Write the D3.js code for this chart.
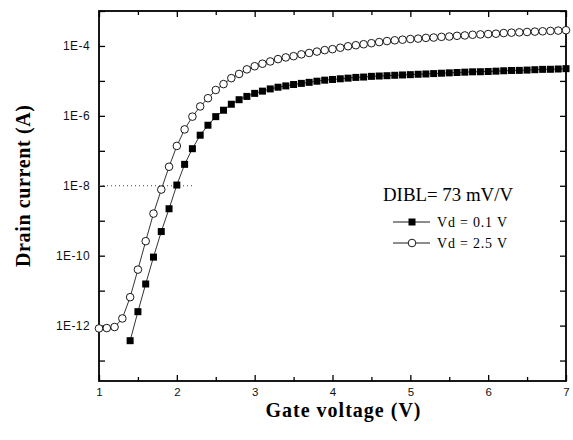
<!DOCTYPE html>
<html>
<head>
<meta charset="utf-8">
<script src="https://cdn.jsdelivr.net/npm/d3@7"></script>
<style>
  body { margin: 0; background: #fff; }
  svg { display: block; }
  .tick text { font-family: "Liberation Sans", Arial, sans-serif; fill: #111; }
  .y-labels .tick text { font-size: 12px; letter-spacing: 0.4px; }
  .x-labels .tick text { font-size: 11.5px; }
  .tick line { stroke: #000; stroke-width: 1.3; }
</style>
</head>
<body>
<div id="chart"></div>
<script>

// gate voltage sweep (V)
var gateVoltage = [1.0, 1.1, 1.2, 1.3, 1.4, 1.5, 1.6, 1.7, 1.8, 1.9,
	2.0, 2.1, 2.2, 2.3, 2.4, 2.5, 2.6, 2.7, 2.8, 2.9,
	3.0, 3.1, 3.2, 3.3, 3.4, 3.5, 3.6, 3.7, 3.8, 3.9,
	4.0, 4.1, 4.2, 4.3, 4.4, 4.5, 4.6, 4.7, 4.8, 4.9,
	5.0, 5.1, 5.2, 5.3, 5.4, 5.5, 5.6, 5.7, 5.8, 5.9,
	6.0, 6.1, 6.2, 6.3, 6.4, 6.5, 6.6, 6.7, 6.8, 6.9,
	7.0];

// drain current (A) at Vd = 0.1 V (no data below 1.4 V)
var currentVd01 = [null, null, null, null, 3.7e-13, 2.5e-12, 1.55e-11, 9.1e-11, 4.9e-10, 2.2e-9,
	1.05e-8, 4.1e-8, 1.15e-7, 2.8e-7, 5.4e-7, 9.5e-7, 1.45e-6, 2.15e-6, 2.9e-6, 3.6e-6,
	4.4e-6, 5.1e-6, 5.9e-6, 6.6e-6, 7.2e-6, 7.9e-6, 8.5e-6, 9.1e-6, 9.8e-6, 1.05e-5,
	1.10e-5, 1.15e-5, 1.20e-5, 1.26e-5, 1.29e-5, 1.35e-5, 1.38e-5, 1.41e-5, 1.45e-5, 1.48e-5,
	1.51e-5, 1.55e-5, 1.58e-5, 1.62e-5, 1.66e-5, 1.70e-5, 1.74e-5, 1.78e-5, 1.82e-5, 1.83e-5,
	1.86e-5, 1.90e-5, 1.95e-5, 1.99e-5, 2.00e-5, 2.04e-5, 2.09e-5, 2.14e-5, 2.15e-5, 2.19e-5,
	2.24e-5];

// drain current (A) at Vd = 2.5 V
var currentVd25 = [8.3e-13, 8.5e-13, 9.1e-13, 1.6e-12, 6.5e-12, 4.0e-11, 2.6e-10, 1.6e-9, 7.8e-9, 3.5e-8,
	1.38e-7, 4.1e-7, 9.5e-7, 1.86e-6, 3.2e-6, 5.5e-6, 8.1e-6, 1.2e-5, 1.58e-5, 2.14e-5,
	2.63e-5, 3.1e-5, 3.6e-5, 4.2e-5, 4.7e-5, 5.1e-5, 5.75e-5, 6.3e-5, 6.9e-5, 7.6e-5,
	8.1e-5, 8.9e-5, 9.8e-5, 1.05e-4, 1.12e-4, 1.20e-4, 1.29e-4, 1.38e-4, 1.45e-4, 1.51e-4,
	1.58e-4, 1.62e-4, 1.70e-4, 1.74e-4, 1.82e-4, 1.86e-4, 1.95e-4, 2.0e-4, 2.09e-4, 2.14e-4,
	2.19e-4, 2.24e-4, 2.34e-4, 2.40e-4, 2.45e-4, 2.51e-4, 2.57e-4, 2.63e-4, 2.69e-4, 2.75e-4,
	2.82e-4];

// tick values
var xTicks = [1, 2, 3, 4, 5, 6, 7];
var xMinorTicks = [1.5, 2.5, 3.5, 4.5, 5.5, 6.5];
var yLabelled = [1e-4, 1e-6, 1e-8, 1e-10, 1e-12];

// threshold reference line (1E-8 A, up to 2.2 V)
var refCurrent = 1e-8, refVoltageEnd = 2.2;

var legendLabels = ["Vd = 0.1 V", "Vd = 2.5 V"];
var dibl = "DIBL= 73 mV/V";

// main function
function drawChart () {

	// dimensions
	var width = 573, height = 440;
	var plotLeft = 99, plotRight = 566, plotTop = 11, plotBottom = 381;

	var svg = d3.select("#chart").append("svg")
		.attr("width", width)
		.attr("height", height);

	// scales
	var x = d3.scaleLinear().domain([1, 7]).range([plotLeft, plotRight]);
	var y = d3.scaleLog().domain([2.6e-14, 1e-3]).range([plotBottom, plotTop]);

	// decades and minor ticks from the log scale
	var allTicks = y.ticks().filter(function (d) { return d >= 2.6e-14 && d <= 1e-3; });
	var decades = allTicks.filter(function (d) { return Math.abs(Math.log10(d) - Math.round(Math.log10(d))) < 1e-6; });
	var minors = allTicks.filter(function (d) { return decades.indexOf(d) < 0; });

	function expLabel(d) {
		var isLabel = yLabelled.some(function (v) { return Math.abs(v - d) / v < 1e-6; });
		return isLabel ? "1E-" + Math.round(-Math.log10(d)) : "";
	}

	function noDomain(g) { g.select(".domain").remove(); }

	// left axis
	svg.append("g").attr("class", "y-labels").attr("transform", "translate(" + plotLeft + ",0)")
		.call(d3.axisLeft(y).tickValues(decades).tickSize(-6).tickPadding(9).tickFormat(expLabel))
		.call(noDomain);
	svg.append("g").attr("transform", "translate(" + plotLeft + ",0)")
		.call(d3.axisLeft(y).tickValues(minors).tickSize(-3).tickFormat(""))
		.call(noDomain);

	// right axis
	svg.append("g").attr("transform", "translate(" + plotRight + ",0)")
		.call(d3.axisRight(y).tickValues(decades).tickSize(-6).tickFormat(""))
		.call(noDomain);
	svg.append("g").attr("transform", "translate(" + plotRight + ",0)")
		.call(d3.axisRight(y).tickValues(minors).tickSize(-3).tickFormat(""))
		.call(noDomain);

	// bottom axis
	svg.append("g").attr("class", "x-labels").attr("transform", "translate(0," + plotBottom + ")")
		.call(d3.axisBottom(x).tickValues(xTicks).tickSize(-6).tickPadding(7).tickFormat(d3.format("d")))
		.call(noDomain);
	svg.append("g").attr("transform", "translate(0," + plotBottom + ")")
		.call(d3.axisBottom(x).tickValues(xMinorTicks).tickSize(-4).tickFormat(""))
		.call(noDomain);

	// top axis
	svg.append("g").attr("transform", "translate(0," + plotTop + ")")
		.call(d3.axisTop(x).tickValues(xTicks).tickSize(-6).tickFormat(""))
		.call(noDomain);
	svg.append("g").attr("transform", "translate(0," + plotTop + ")")
		.call(d3.axisTop(x).tickValues(xMinorTicks).tickSize(-4).tickFormat(""))
		.call(noDomain);

	// frame
	svg.append("rect")
		.attr("x", plotLeft).attr("y", plotTop)
		.attr("width", plotRight - plotLeft).attr("height", plotBottom - plotTop)
		.attr("fill", "none").attr("stroke", "#000").attr("stroke-width", 1.8);

	// dotted reference line
	svg.append("line")
		.attr("x1", x(1)).attr("x2", x(refVoltageEnd))
		.attr("y1", y(refCurrent)).attr("y2", y(refCurrent))
		.attr("stroke", "#444").attr("stroke-width", 1)
		.attr("stroke-dasharray", "1,3");

	// series
	var rows01 = gateVoltage.map(function (v, i) { return { v: v, i: currentVd01[i] }; })
		.filter(function (d) { return d.i != null; });
	var rows25 = gateVoltage.map(function (v, i) { return { v: v, i: currentVd25[i] }; });

	var line = d3.line()
		.x(function (d) { return x(d.v); })
		.y(function (d) { return y(d.i); });

	svg.append("path").datum(rows25)
		.attr("d", line).attr("fill", "none").attr("stroke", "#000").attr("stroke-width", 0.8);
	svg.append("path").datum(rows01)
		.attr("d", line).attr("fill", "none").attr("stroke", "#000").attr("stroke-width", 0.8);

	svg.append("g").selectAll("circle")
		.data(rows25)
		.enter().append("circle")
			.attr("cx", function (d) { return x(d.v); })
			.attr("cy", function (d) { return y(d.i); })
			.attr("r", 3.8)
			.attr("fill", "#fff")
			.attr("stroke", "#000")
			.attr("stroke-width", 0.9);

	svg.append("g").selectAll("rect")
		.data(rows01)
		.enter().append("rect")
			.attr("x", function (d) { return x(d.v) - 3.5; })
			.attr("y", function (d) { return y(d.i) - 3.5; })
			.attr("width", 7)
			.attr("height", 7)
			.attr("fill", "#000");

	// axis titles
	svg.append("text")
		.attr("x", 343).attr("y", 417)
		.attr("text-anchor", "middle")
		.attr("font-family", "Liberation Serif, Times New Roman, serif")
		.attr("font-weight", "bold")
		.attr("font-size", 20)
		.attr("textLength", 155)
		.attr("lengthAdjust", "spacing")
		.text("Gate voltage (V)");

	svg.append("text")
		.attr("transform", "translate(30,186) rotate(-90)")
		.attr("text-anchor", "middle")
		.attr("font-family", "Liberation Serif, Times New Roman, serif")
		.attr("font-weight", "bold")
		.attr("font-size", 20)
		.attr("textLength", 162)
		.attr("lengthAdjust", "spacing")
		.text("Drain current (A)");

	// legend
	var legend = svg.append("g").attr("transform", "translate(383,0)");

	legend.append("text")
		.attr("x", 0).attr("y", 201)
		.attr("font-family", "Liberation Serif, Times New Roman, serif")
		.attr("font-size", 19)
		.attr("textLength", 130)
		.attr("lengthAdjust", "spacingAndGlyphs")
		.text(dibl);

	var rowsY = [222, 243];
	legendLabels.forEach(function (label, k) {
		var ly = rowsY[k];
		legend.append("line")
			.attr("x1", 10).attr("x2", 47)
			.attr("y1", ly).attr("y2", ly)
			.attr("stroke", "#000").attr("stroke-width", 0.9);
		if (k === 0) {
			legend.append("rect")
				.attr("x", 29 - 3.5).attr("y", ly - 3.5)
				.attr("width", 7).attr("height", 7)
				.attr("fill", "#000");
		} else {
			legend.append("circle")
				.attr("cx", 29).attr("cy", ly)
				.attr("r", 3.8)
				.attr("fill", "#fff").attr("stroke", "#000").attr("stroke-width", 0.9);
		}
		legend.append("text")
			.attr("x", 54).attr("y", ly + 5)
			.attr("font-family", "Liberation Serif, Times New Roman, serif")
			.attr("font-size", 14)
			.attr("textLength", 70)
			.attr("lengthAdjust", "spacing")
			.text(label);
	});
}

drawChart();
</script>
</body>
</html>
